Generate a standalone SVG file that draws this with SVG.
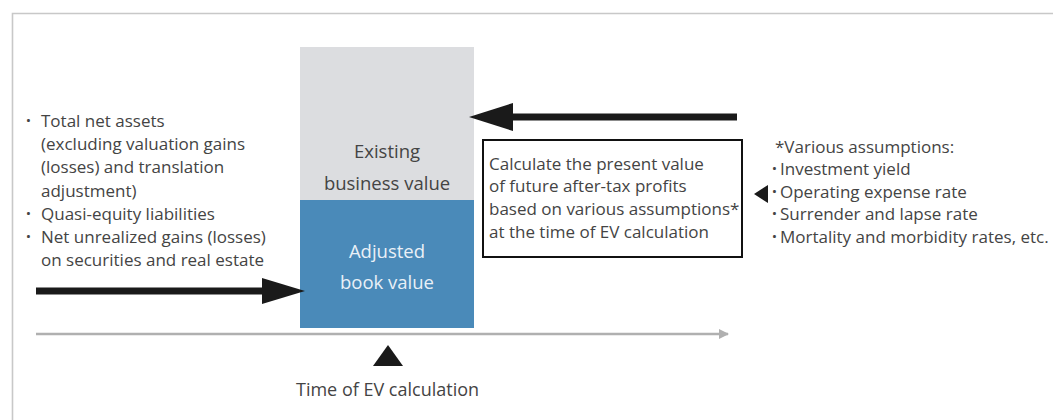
<svg xmlns="http://www.w3.org/2000/svg" width="1053" height="420" viewBox="0 0 1053 420">
  <defs>
    <style>
      .txt { font-family: "Open Sans", "Noto Sans", sans-serif; font-size: 17px; fill: #444; }
      .mid { text-anchor: middle; font-size: 18.5px; }
      .time { font-size: 18px; }
      .light { fill: #e9f0f7; }
      .dot { font-weight: bold; }
      .frame { fill: none; stroke: #c8c8c8; stroke-width: 1.6; }
      .shaft { stroke: #1a1a1a; stroke-width: 7; fill: none; }
      .head { fill: #1a1a1a; }
    </style>
    <marker id="axisHead" viewBox="0 0 10 10" refX="9" refY="5" markerWidth="4" markerHeight="4" orient="auto" markerUnits="strokeWidth">
      <path d="M0,0 L10,5 L0,10 Z" fill="#b0b0b0"/>
    </marker>
  </defs>

  <rect width="1053" height="420" fill="#ffffff"/>

  <!-- outer frame -->
  <path class="frame" d="M12.5,420 V13.5 H1053"/>

  <!-- value blocks -->
  <g id="existing-business-value">
    <rect x="300" y="47" width="174" height="153" fill="#dcdde0"/>
    <text class="txt mid" x="387" y="158">Existing</text>
    <text class="txt mid" x="387" y="190">business value</text>
  </g>
  <g id="adjusted-book-value">
    <rect x="300" y="200" width="174" height="128" fill="#4a8ab9"/>
    <text class="txt mid light" x="387" y="258">Adjusted</text>
    <text class="txt mid light" x="387" y="289">book value</text>
  </g>

  <!-- components of adjusted book value -->
  <g id="book-value-items">
    <text class="txt" x="26" y="127"><tspan class="dot">·</tspan><tspan x="41">Total net assets</tspan></text>
    <text class="txt" x="41" y="150">(excluding valuation gains</text>
    <text class="txt" x="41" y="173">(losses) and translation</text>
    <text class="txt" x="41" y="197">adjustment)</text>
    <text class="txt" x="26" y="220"><tspan class="dot">·</tspan><tspan x="41">Quasi-equity liabilities</tspan></text>
    <text class="txt" x="26" y="243"><tspan class="dot">·</tspan><tspan x="41">Net unrealized gains (losses)</tspan></text>
    <text class="txt" x="41" y="266">on securities and real estate</text>
  </g>

  <!-- present value calculation -->
  <g id="pv-calculation">
    <rect x="483" y="140" width="259" height="117" fill="#ffffff" stroke="#111" stroke-width="2"/>
    <text class="txt" x="489" y="170">Calculate the present value</text>
    <text class="txt" x="489" y="192">of future after-tax profits</text>
    <text class="txt" x="489" y="215">based on various assumptions*</text>
    <text class="txt" x="489" y="238">at the time of EV calculation</text>
  </g>

  <!-- assumptions -->
  <g id="assumptions">
    <text class="txt" x="775" y="153">*Various assumptions:</text>
    <text class="txt" x="772" y="175"><tspan class="dot">·</tspan><tspan x="780">Investment yield</tspan></text>
    <text class="txt" x="772" y="198"><tspan class="dot">·</tspan><tspan x="780">Operating expense rate</tspan></text>
    <text class="txt" x="772" y="220"><tspan class="dot">·</tspan><tspan x="780">Surrender and lapse rate</tspan></text>
    <text class="txt" x="772" y="243"><tspan class="dot">·</tspan><tspan x="780">Mortality and morbidity rates, etc.</tspan></text>
  </g>

  <!-- valuation point -->
  <g id="valuation-time">
    <path class="head" d="M388,345 L403,366 L373,366 Z"/>
    <text class="txt time" x="296" y="396">Time of EV calculation</text>
  </g>

  <!-- connectors -->
  <g id="connectors">
    <line x1="36" y1="334" x2="728" y2="334" stroke="#b0b0b0" stroke-width="2.5" marker-end="url(#axisHead)"/>
    <line class="shaft" x1="36" y1="291" x2="264" y2="291"/>
    <path class="head" d="M305,291 L262,278 L262,304 Z"/>
    <line class="shaft" x1="737" y1="117" x2="511" y2="117"/>
    <path class="head" d="M469,117 L513,103 L513,131 Z"/>
    <path class="head" d="M754,194 L768,185 L768,203 Z"/>
  </g>
</svg>
